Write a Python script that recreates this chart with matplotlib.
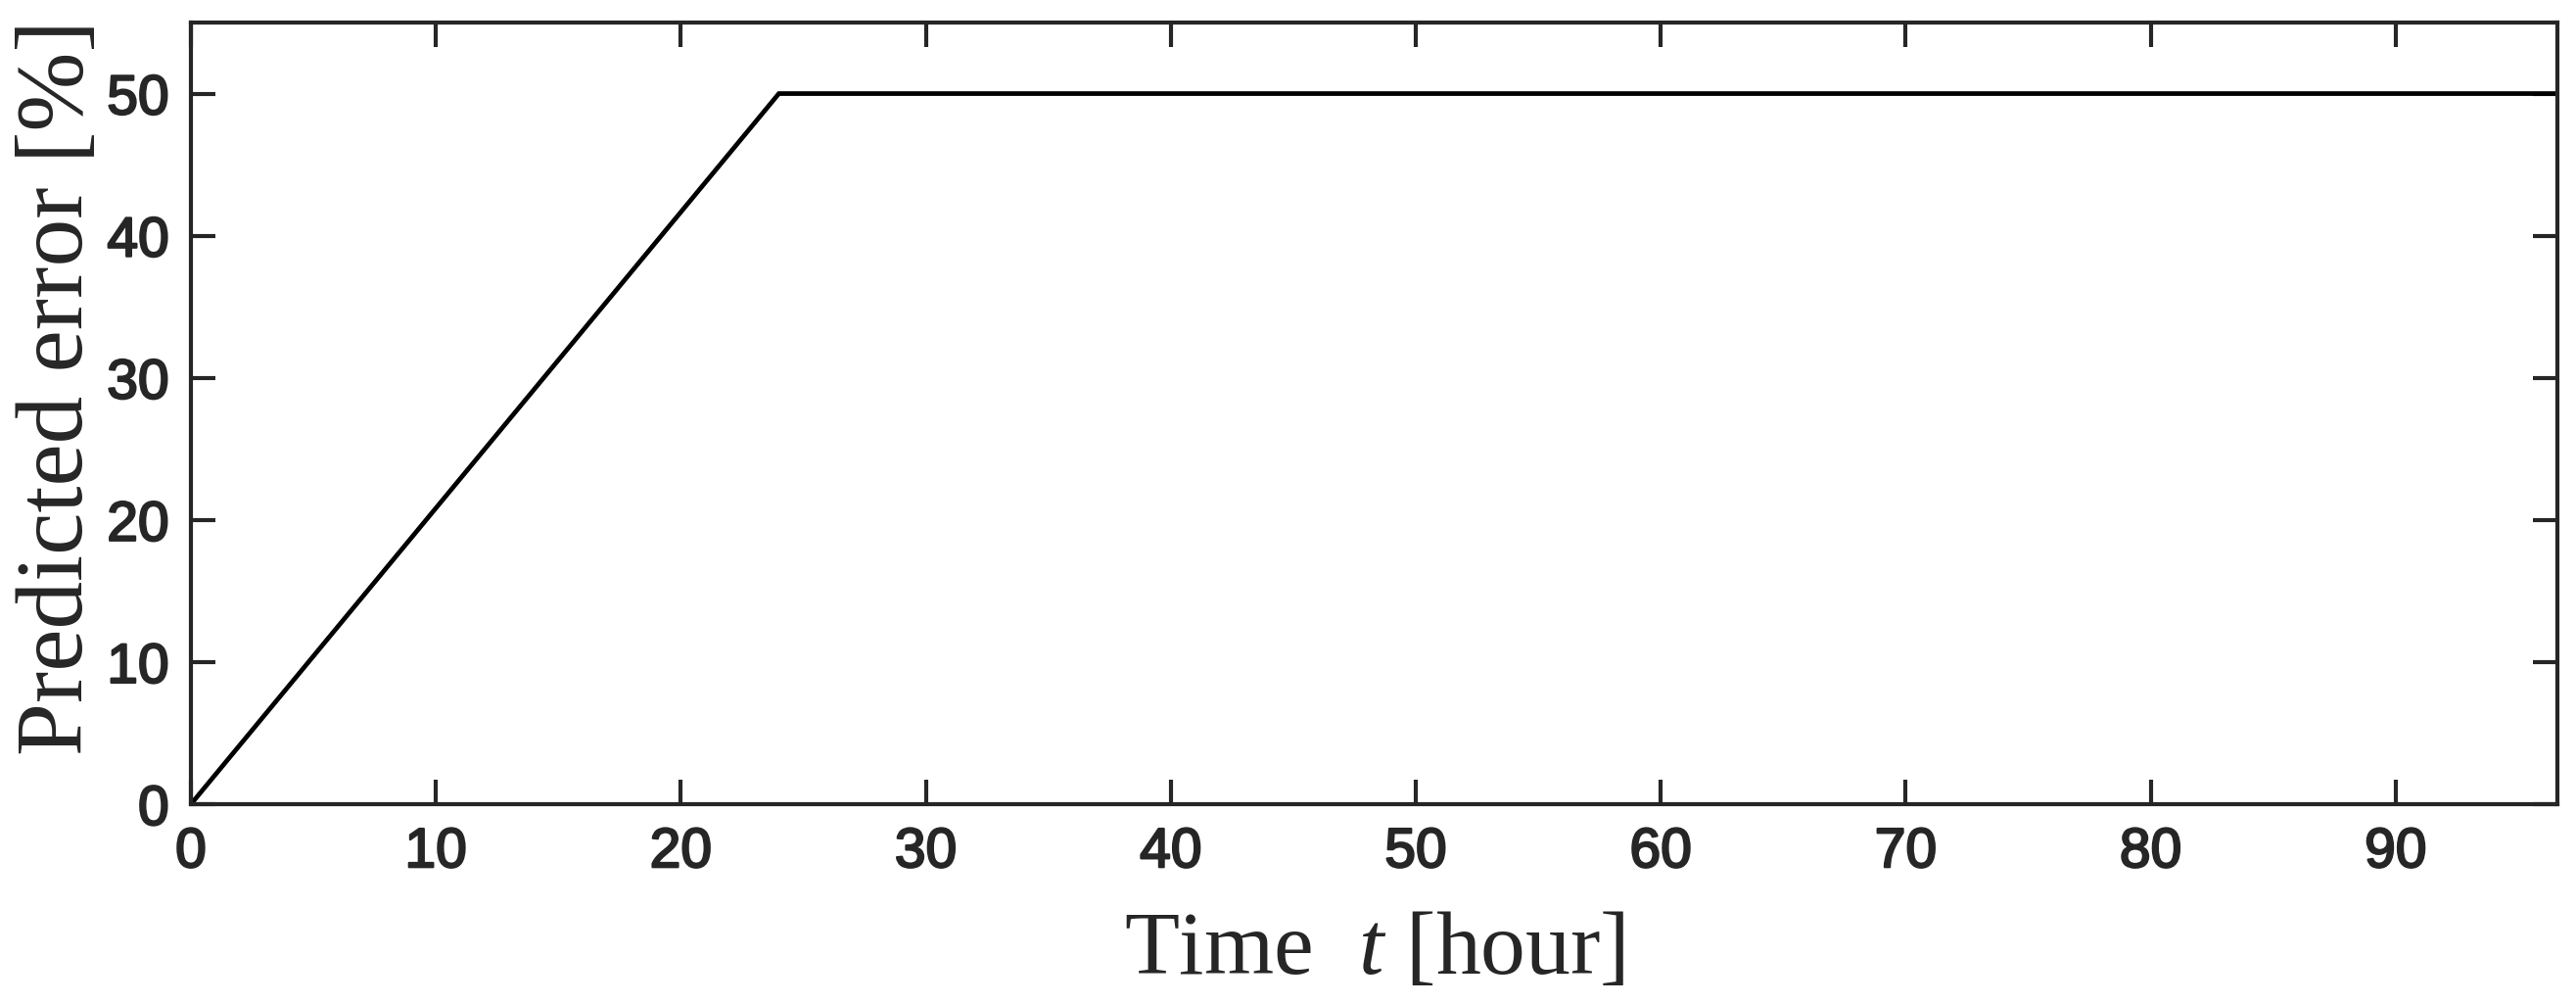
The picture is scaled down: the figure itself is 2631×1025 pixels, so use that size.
import matplotlib
matplotlib.use('Agg')
import matplotlib.pyplot as plt
import matplotlib.patheffects as pe

plt.rcParams['mathtext.fontset'] = 'custom'
plt.rcParams['mathtext.it'] = 'Liberation Serif:italic'
plt.rcParams['mathtext.rm'] = 'Liberation Serif'

# predicted error rises linearly for 24 h, then stays at 50 %
time_h = [0, 24, 96.6]
error_pct = [0, 50, 50]
xticks = [0, 10, 20, 30, 40, 50, 60, 70, 80, 90]
yticks = [0, 10, 20, 30, 40, 50]

fig = plt.figure(figsize=(26.31, 10.25), dpi=100)
ax = fig.add_axes([195/2631, 1-821/1025, (2612-195)/2631, (821-23)/1025])

ax.plot(time_h, error_pct, color='black', lw=3.4, solid_joinstyle='miter')

ax.set_xlim(0, 96.6)
ax.set_ylim(0, 55)
ax.set_xticks(xticks)
ax.set_yticks(yticks)

axcol = '#262626'
for s in ax.spines.values():
    s.set_linewidth(3.0)
    s.set_color(axcol)
ax.tick_params(direction='in', length=18, width=3.0, color=axcol,
               top=True, right=True, labelsize=41, labelcolor=axcol, pad=16)
thick = [pe.withStroke(linewidth=1.6, foreground=axcol)]
for lab in ax.get_xticklabels() + ax.get_yticklabels():
    lab.set_family('Liberation Sans')
    lab.set_path_effects(thick)

ax.set_xlabel('Time  $t$ [hour]', family='Liberation Serif', fontsize=66,
              color=axcol, labelpad=24)
ax.set_ylabel('Predicted error [%]', family='Liberation Serif', fontsize=70,
              color=axcol, labelpad=3)
ax.yaxis.label.set_y(0.533)

fig.savefig('out.png', dpi=100)
